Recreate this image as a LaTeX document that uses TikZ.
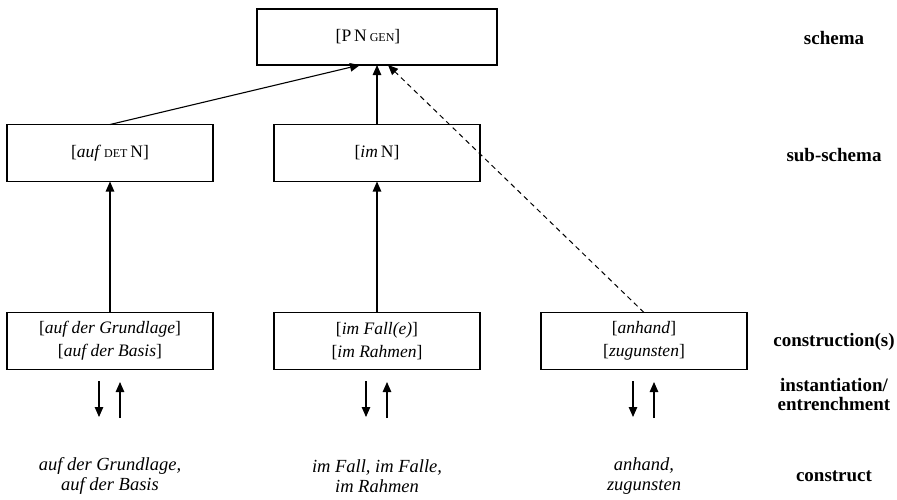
\documentclass[tikz,border=0pt]{standalone}
\usepackage{fontspec}
\setmainfont{Liberation Serif}
\usetikzlibrary{arrows.meta,calc}
\newcommand{\smc}[1]{{\fontsize{12}{12}\selectfont #1}}
\begin{document}
\begin{tikzpicture}[x=1pt,y=-1pt,
  every node/.style={inner sep=0pt,outer sep=0pt},
  box/.style={draw,line width=1.1pt,minimum width=206pt,minimum height=57pt,
    align=center,font=\fontsize{17.5}{23}\selectfont},
  lbl/.style={align=center,font=\bfseries\fontsize{19}{19}\selectfont},
  cx/.style={align=center,font=\itshape\fontsize{18.5}{20}\selectfont},
  link/.style={line width=1.1pt,-{Triangle[length=10pt,width=8.5pt]}},
  dlink/.style={line width=1pt,-{Triangle[length=10pt,width=8.5pt]},dash pattern=on 5pt off 4pt}]
\useasboundingbox (0,0) rectangle (897,499);

% schema level
\node[box,minimum width=240pt,minimum height=56pt] (top) at (377,37) {};
\node[font=\fontsize{17.5}{23}\selectfont] (topt) at (368,37) {[P\,N\,\smc{GEN}]};

% sub-schemas
\node[box] (subA) at (110,153) {[\textit{auf}\,\smc{DET}\,N]};
\node[box] (subB) at (377,153) {[\textit{im}\,N]};

% constructions
\node[box] (conA) at (110,341) {[\textit{auf der Grundlage}]\\{[}\textit{auf der Basis}]};
\node[box] (conB) at (377,341) {[\textit{im Fall(e)}]\\{[}\textit{im Rahmen}]};
\node[box] (conC) at (644,341) {[\textit{anhand}]\\{[}\textit{zugunsten}]};

% inheritance links
\coordinate (tA) at ($(top.south)+(-17,0)$);
\coordinate (tC) at ($(top.south)+(11,0)$);
\draw[link] (subA.north) -- (tA);
\draw[link] (subB.north) -- (top.south);
\draw[dlink] (conC.north) -- (tC);
\draw[link] (conA.north) -- (subA.south);
\draw[link] (conB.north) -- (subB.south);

% instantiation / entrenchment arrows
\foreach \n/\x in {a/110,b/377,c/644}{
  \coordinate (d\n1) at (\x-11,381);
  \coordinate (d\n2) at (\x-11,417);
  \coordinate (u\n1) at (\x+10,418);
  \coordinate (u\n2) at (\x+10,382);
  \draw[link] (d\n1) -- (d\n2);
  \draw[link] (u\n1) -- (u\n2);
}

% constructs
\node[cx] (cA) at (110,476) {auf der Grundlage,\\auf der Basis};
\node[cx] (cB) at (377,476) {im Fall, im Falle,\\im Rahmen};
\node[cx] (cC) at (644,476) {anhand,\\zugunsten};

% level labels
\node[lbl] (lS) at (834,38) {schema};
\node[lbl] (lSS) at (834,155) {sub-schema};
\node[lbl] (lC) at (834,342) {construction(s)};
\node[lbl] (lI) at (834,394) {instantiation/\\entrenchment};
\node[lbl] (lCt) at (834,476) {construct};
\end{tikzpicture}
\end{document}
